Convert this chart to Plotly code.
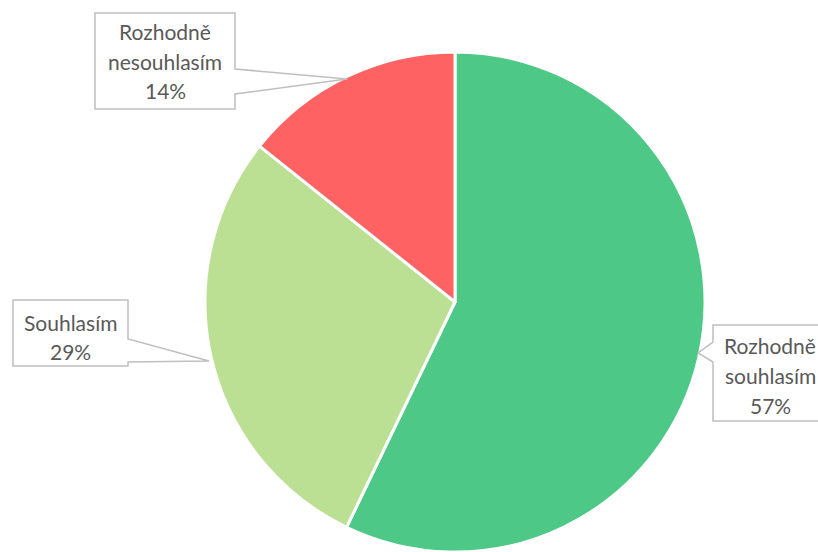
import plotly.graph_objects as go

# Survey answers (counts) and slice colours
labels = ["Rozhodně souhlasím", "Souhlasím", "Rozhodně nesouhlasím"]
values = [4, 2, 1]
colors = ["#4EC886", "#BCE093", "#FF6262"]

W, H = 818, 552
total = sum(values)
percents = [round(v / total * 100) for v in values]

def px(x):
    return x / W

def py(y):
    return 1 - y / H

fig = go.Figure(go.Pie(
    labels=labels,
    values=values,
    sort=False,
    direction="clockwise",
    rotation=0,
    textinfo="none",
    hoverinfo="label+percent",
    marker=dict(colors=colors, line=dict(color="white", width=3)),
    domain=dict(x=[(455 - 250) / W, (455 + 250) / W], y=[0, 500 / H]),
    showlegend=False,
))

# Callout geometry (pixels): box left/top/right/bottom, wedge base on one side, tip
callouts = {
    "Rozhodně souhlasím": dict(box=(713, 325, 830, 421), side="left", base=(342, 362), tip=(698, 353), cx=770, cy=375),
    "Souhlasím": dict(box=(13, 300, 128, 366), side="right", base=(339, 362), tip=(209, 361), cx=70, cy=337),
    "Rozhodně nesouhlasím": dict(box=(95, 13, 235, 109), side="right", base=(69, 94), tip=(347, 79), cx=165, cy=61),
}

shapes = []
annotations = []
for lab, pct in zip(labels, percents):
    c = callouts[lab]
    x0, y0, x1, y1 = c["box"]
    b0, b1 = c["base"]
    tx, ty = c["tip"]
    if c["side"] == "right":
        pts = [(x0, y0), (x1, y0), (x1, b0), (tx, ty), (x1, b1), (x1, y1), (x0, y1)]
    else:
        pts = [(x0, y0), (x1, y0), (x1, y1), (x0, y1), (x0, b1), (tx, ty), (x0, b0)]
    path = "M " + " L ".join(f"{px(x):.5f},{py(y):.5f}" for x, y in pts) + " Z"
    shapes.append(dict(type="path", xref="paper", yref="paper", path=path,
                       fillcolor="white", line=dict(color="#BFBFBF", width=1.5)))
    lines = lab.split(" ") + [f"{pct}%"]
    n = len(lines)
    for i, t in enumerate(lines):
        y = c["cy"] + (i - (n - 1) / 2) * 30
        annotations.append(dict(x=px(c["cx"]), y=py(y), xref="paper", yref="paper",
                                text=t, showarrow=False, xanchor="center", yanchor="middle",
                                font=dict(family="Lato, Carlito, sans-serif", size=21, color="#595959")))

fig.update_layout(
    width=W, height=H,
    margin=dict(l=0, r=0, t=0, b=0),
    paper_bgcolor="white",
    plot_bgcolor="white",
    shapes=shapes,
    annotations=annotations,
)

fig.write_html("out.html")
